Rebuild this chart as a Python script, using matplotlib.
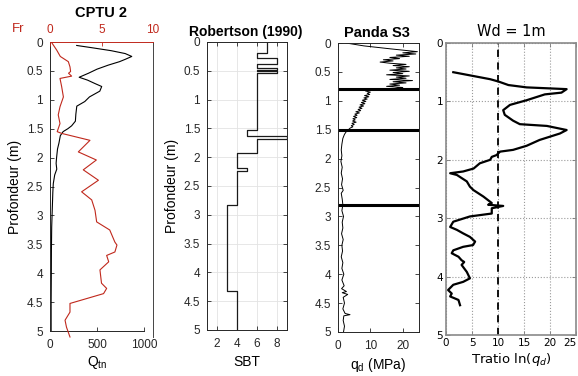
import matplotlib
matplotlib.use("Agg")
import matplotlib.pyplot as plt
import numpy as np

# ---------------- data ----------------
# CPTU 2 : Qtn (black)
qtn_depth = [0.06, 0.10, 0.15, 0.20, 0.25, 0.30, 0.34, 0.40, 0.47, 0.54, 0.61, 0.66, 0.72, 0.77, 0.85,
             0.95, 1.03, 1.11, 1.25, 1.37, 1.45, 1.50, 1.55, 1.62, 1.75, 1.85, 2.00, 2.10, 2.20, 2.30,
             2.45, 2.60, 2.85, 3.20, 3.60, 4.00, 4.50, 5.00]
qtn_val = [284, 450, 650, 800, 870, 800, 740, 620, 500, 410, 310, 400, 480, 550, 530,
           420, 370, 285, 275, 270, 230, 190, 140, 110, 95, 80, 70, 65, 72, 50,
           35, 30, 25, 18, 15, 14, 12, 12]
# CPTU 2 : Fr (red)
fr_depth = [0.02, 0.14, 0.25, 0.34, 0.43, 0.51, 0.54, 0.59, 0.63, 0.77, 0.95, 1.12, 1.26, 1.41, 1.55,
            1.58, 1.70, 1.90, 2.04, 2.21, 2.39, 2.59, 2.73, 2.91, 3.11, 3.25, 3.46, 3.51, 3.63, 3.69,
            3.80, 3.94, 4.17, 4.26, 4.35, 4.52, 4.67, 4.81, 4.93, 5.10]
fr_val = [0.2, 0.65, 1.0, 1.78, 1.94, 2.0, 1.8, 2.1, 0.97, 1.13, 1.3, 0.97, 0.8, 0.97, 0.7,
          1.13, 3.88, 2.75, 4.5, 3.23, 4.7, 3.07, 4.05, 4.37, 4.53, 5.8, 6.3, 6.5, 6.3, 5.5,
          5.7, 4.85, 5.0, 5.5, 5.2, 1.94, 1.94, 1.46, 1.6, 1.94]

# Robertson (1990) SBT (interval tops and zone values)
sbt_top = [0, 0.19, 0.28, 0.38, 0.45, 0.48, 0.50, 0.53, 1.53, 1.63, 1.69, 1.93, 2.18, 2.24, 2.83, 4.33]
sbt_val = [7, 6, 8, 6, 8, 6, 8, 6, 5, 9, 6, 4, 5, 4, 3, 4]
sbt_bottom = 5.0

# Panda S3 qd (MPa)
qd_depth = [0.00, 0.05, 0.10, 0.15, 0.17, 0.19, 0.21, 0.23, 0.25, 0.27, 0.29, 0.31, 0.33, 0.35, 0.37,
            0.39, 0.41, 0.43, 0.45, 0.47, 0.49, 0.51, 0.53, 0.55, 0.57, 0.59, 0.61, 0.63, 0.65, 0.67,
            0.69, 0.71, 0.73, 0.75, 0.77, 0.79, 0.80,
            0.81, 0.83, 0.85, 0.87, 0.89, 0.91, 0.93, 0.95, 0.97, 0.99, 1.01, 1.03, 1.05, 1.07, 1.09,
            1.11, 1.13, 1.15, 1.17, 1.19, 1.21, 1.23, 1.25, 1.27, 1.29, 1.31, 1.33, 1.35, 1.37, 1.39,
            1.41, 1.43, 1.45, 1.47, 1.50, 1.53, 1.58, 1.65, 1.75, 1.85,
            1.95, 2.05, 2.15, 2.25, 2.35, 2.45, 2.55, 2.60, 2.70, 2.80, 2.90, 3.00, 3.10, 3.20, 3.30,
            3.40, 3.50, 3.60, 3.70, 3.80, 3.90, 4.00, 4.10, 4.20, 4.25, 4.30, 4.32, 4.35, 4.40, 4.50,
            4.60, 4.68, 4.70, 4.72, 4.80, 4.90, 5.00]
qd_val = [2.5, 8, 16, 24.5, 20, 24, 18, 22, 16, 19, 14, 17, 13, 16, 21,
          17, 22, 18, 21, 16, 22, 17, 20, 15, 22, 18, 21, 16, 23, 17,
          21, 16, 19, 15, 20, 17, 18,
          10, 8.5, 10, 9, 9.8, 8.2, 9.5, 8, 9, 7.5, 8.6, 7.2, 8.3, 6.8, 7.9,
          6.5, 7.4, 6.2, 7.0, 5.5, 6.6, 5.2, 5.9, 4.8, 5.8, 4.6, 5.3, 4.5, 5.6, 4.3,
          5.0, 4.1, 4.6, 3.8, 3.2, 2.6, 2.0, 1.5, 1.2, 1.0,
          1.2, 0.9, 1.3, 1.0, 1.4, 1.1, 1.6, 1.0, 1.3, 1.5, 1.2, 1.7, 1.3, 1.5, 1.1,
          1.6, 1.2, 1.4, 1.0, 1.5, 1.2, 1.8, 1.2, 1.9, 1.1, 2.6, 1.3, 3.0, 1.6, 2.0,
          1.5, 2.2, 3.7, 1.8, 1.6, 2.0, 1.7]
layer_depths = [0.8, 1.5, 2.8]

# Tratio ln(qd), Wd = 1m
tr_depth = [0.50, 0.62, 0.66, 0.72, 0.76, 0.79, 0.85, 0.88, 0.98, 1.06, 1.15, 1.23, 1.33, 1.39, 1.42,
            1.49, 1.55, 1.66, 1.76, 1.83, 1.86, 1.92, 1.95, 2.00, 2.06, 2.15, 2.20, 2.23, 2.26, 2.37,
            2.46, 2.52, 2.63, 2.74, 2.77, 2.79, 2.83, 2.92, 2.97, 3.06, 3.15, 3.20, 3.26, 3.32, 3.40,
            3.46, 3.49, 3.55, 3.60, 3.66, 3.72, 3.75, 3.80, 3.92, 4.03, 4.09, 4.14, 4.23, 4.29, 4.34,
            4.40, 4.49]
tr_val = [1.4, 8.5, 10.1, 12, 15.5, 23.2, 22.2, 19, 15.5, 12.3, 11, 11.3, 12.9, 14.2, 19.4,
          23.2, 21.9, 18, 15.5, 12.9, 10.4, 9.7, 8.8, 8.5, 6.5, 5.3, 3.3, 0.8, 2.1, 4.0,
          4.6, 5.3, 7.2, 8.8, 8.1, 11.0, 8.8, 8.8, 4.6, 1.4, 0.8, 2.1, 3.3, 4.6, 5.6,
          5.2, 3.3, 1.4, 1.1, 2.4, 3.0, 3.5, 3.0, 4.0, 4.6, 3.3, 1.4, 0.4, 1.1, 0.8,
          2.4, 2.7]
tratio_threshold = 10

depth_ticks = [0, 0.5, 1, 1.5, 2, 2.5, 3, 3.5, 4, 4.5, 5]
depth_labels = ['0', '0.5', '1', '1.5', '2', '2.5', '3', '3.5', '4', '4.5', '5']

# ---------------- figure ----------------
W, H = 578, 376
fig = plt.figure(figsize=(W / 100, H / 100), dpi=100)
MF = ['Liberation Sans', 'DejaVu Sans']
red = '#c0281c'
TS = 8.5   # tick label size
LS = 10    # axis label size

def rect(x0, y0, x1, y1):
    return [x0 / W, 1 - y1 / H, (x1 - x0) / W, (y1 - y0) / H]

def matlab_style(ax):
    ax.tick_params(direction='in', labelsize=TS, length=3, width=0.6, colors='#262626')
    ax.tick_params(axis='x', pad=6)
    ax.tick_params(axis='y', pad=5)
    for lab in ax.get_xticklabels() + ax.get_yticklabels():
        lab.set_family(MF)
    for s in ax.spines.values():
        s.set_linewidth(0.7)
        s.set_color('#262626')

# ---- Panel 1 : CPTU 2 ----
ax1 = fig.add_axes(rect(50, 42, 144, 331))
ax1.plot(qtn_val, qtn_depth, color='black', lw=0.8)
ax1.set_xlim(0, 1000)
ax1.set_ylim(5, 0)
ax1.set_xticks([0, 500, 1000])
ax1.set_yticks(depth_ticks)
ax1.set_yticklabels(depth_labels)
matlab_style(ax1)
ax1.spines['top'].set_visible(False)
ax1.spines['right'].set_visible(False)
ax1.set_xlabel('Q$_{\\mathregular{tn}}$', fontsize=LS, family=MF, labelpad=2)
ax1.set_ylabel('Profondeur (m)', fontsize=LS, family=MF, labelpad=3)

ax1b = fig.add_axes(rect(50, 42, 153, 337))
ax1b.patch.set_alpha(0)
ax1b.plot(fr_val, fr_depth, color=red, lw=0.8, clip_on=False)
ax1b.set_xlim(0, 10)
ax1b.set_ylim(5.1, 0)
ax1b.set_xticks([0, 5, 10])
ax1b.xaxis.tick_top()
ax1b.set_yticks([])
matlab_style(ax1b)
ax1b.tick_params(axis='x', colors=red, pad=4.5)
ax1b.spines['left'].set_visible(False)
ax1b.spines['bottom'].set_visible(False)
ax1b.spines['top'].set_color(red)
ax1b.spines['right'].set_color('#444444')
fig.text(12 / W, 1 - 29 / H, 'Fr', color=red, fontsize=9.5, family=MF, va='center', ha='left')
fig.text(101 / W, 1 - 13 / H, 'CPTU 2', fontsize=10.5, fontweight='bold', family=MF,
         ha='center', va='center')

# ---- Panel 2 : Robertson (1990) ----
ax2 = fig.add_axes(rect(207, 42, 287, 330))
bounds = sbt_top + [sbt_bottom]
xs, ys = [], []
for i, v in enumerate(sbt_val):
    xs += [v, v]
    ys += [bounds[i], bounds[i + 1]]
ax2.plot(xs, ys, color='#1a1a1a', lw=0.9)
ax2.set_xlim(1, 9)
ax2.set_ylim(5, 0)
ax2.set_xticks([2, 4, 6, 8])
ax2.set_yticks(depth_ticks)
ax2.set_yticklabels(depth_labels)
ax2.grid(True, color='#e3e3e3', lw=0.6)
ax2.set_axisbelow(True)
ax2.tick_params(top=True, right=True)
matlab_style(ax2)
ax2.set_xlabel('SBT', fontsize=LS, family=MF, labelpad=3)
ax2.set_ylabel('Profondeur (m)', fontsize=LS, family=MF, labelpad=3)
fig.text(246 / W, 1 - 32 / H, 'Robertson (1990)', fontsize=10, fontweight='bold', family=MF,
         ha='center', va='center')

# ---- Panel 3 : Panda S3 ----
ax3 = fig.add_axes(rect(338, 43, 419, 332))
ax3.plot(qd_val, qd_depth, color='black', lw=0.7)
for d in layer_depths:
    ax3.axhline(d, color='black', lw=2.2)
ax3.set_xlim(0, 25)
ax3.set_ylim(5, 0)
ax3.set_xticks([0, 10, 20])
ax3.set_yticks(depth_ticks)
ax3.set_yticklabels(depth_labels)
ax3.tick_params(top=True, right=True)
matlab_style(ax3)
ax3.set_xlabel('q$_{\\mathregular{d}}$ (MPa)', fontsize=LS, family=MF, labelpad=3)
fig.text(377 / W, 1 - 33 / H, 'Panda S3', fontsize=10.5, fontweight='bold', family=MF,
         ha='center', va='center')

# ---- Panel 4 : Tratio ----
ax4 = fig.add_axes(rect(446, 43, 576, 335))
ax4.plot(tr_val, tr_depth, color='black', lw=1.6)
ax4.axvline(tratio_threshold, color='black', lw=1.3, ls=(0, (4, 3)))
ax4.set_xlim(0, 25)
ax4.set_ylim(5, 0)
ax4.set_xticks([0, 5, 10, 15, 20, 25])
ax4.set_yticks([0, 1, 2, 3, 4, 5])
ax4.grid(True, color='#9a9a9a', ls=':', lw=0.8)
ax4.set_axisbelow(True)
ax4.tick_params(direction='in', labelsize=7.5, length=3, width=0.6, top=True, right=True,
                color='#777777', pad=2)
ax4.get_xticklabels()[-1].set_horizontalalignment('right')
for s in ax4.spines.values():
    s.set_color('#8a8a8a')
    s.set_linewidth(1.2)
ax4.set_xlabel('Tratio ln($q_d$)', fontsize=9.5, labelpad=2)
ax4.set_title('Wd = 1m', fontsize=10.5, pad=5)

fig.savefig('out.png', dpi=100)
